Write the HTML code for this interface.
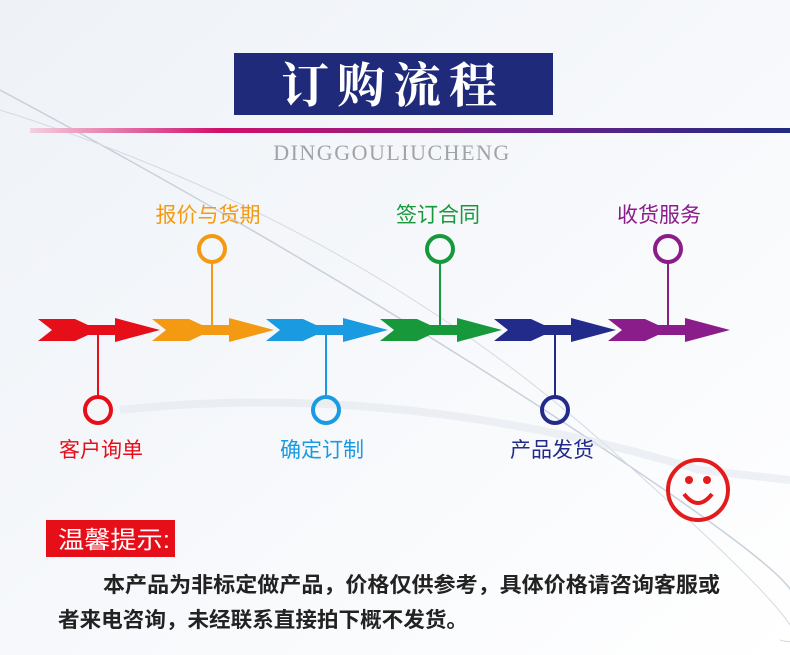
<!DOCTYPE html>
<html><head><meta charset="utf-8"><style>
html,body{margin:0;padding:0;background:#fff}
svg{display:block}
text{font-family:"Liberation Sans","Noto Sans CJK SC",sans-serif}
</style></head><body>
<svg width="790" height="655" viewBox="0 0 790 655" xmlns="http://www.w3.org/2000/svg">
<defs>
<linearGradient id="bg" x1="0" y1="0" x2="1" y2="1">
<stop offset="0" stop-color="#eef2f7"/><stop offset="0.5" stop-color="#f6f8fb"/><stop offset="1" stop-color="#ffffff"/>
</linearGradient>
<linearGradient id="ln" x1="0" y1="0" x2="1" y2="0">
<stop offset="0" stop-color="#f5d0e0"/><stop offset="0.25" stop-color="#d0106a"/><stop offset="0.6" stop-color="#7a1f8a"/><stop offset="1" stop-color="#1f2a80"/>
</linearGradient>
<polygon id="ar" points="0,-11 37,-11 50,-5 77,-5 77,-12 122,0 77,12 77,5 50,5 37,11 0,11 14,0"/>
</defs>
<rect width="790" height="655" fill="url(#bg)"/>
<path d="M0,90 Q300,250 560,420 T790,600" stroke="#c8d0dc" stroke-width="1.5" fill="none"/>
<path d="M0,110 Q350,220 600,440 T780,640" stroke="#d4dae4" stroke-width="1" fill="none"/>
<path d="M120,410 Q400,380 700,470 L790,480" stroke="#e2e7ee" stroke-width="8" fill="none" opacity="0.6"/>
<rect x="234" y="53" width="319" height="62" fill="#1f2a7a"/>
<text x="393" y="102" text-anchor="middle" font-size="48" font-weight="bold" fill="#fff" letter-spacing="8" style="font-family:'Noto Serif CJK SC','Noto Sans CJK SC',serif">订购流程</text>
<rect x="30" y="128" width="760" height="5" fill="url(#ln)"/>
<text x="392" y="160" text-anchor="middle" font-size="22" fill="#a0a4a8" letter-spacing="1.5" style="font-family:'Liberation Serif',serif">DINGGOULIUCHENG</text>
<use href="#ar" x="38" y="330" fill="#e60e19"/>
<use href="#ar" x="152" y="330" fill="#f39a12"/>
<use href="#ar" x="266" y="330" fill="#1a9ae0"/>
<use href="#ar" x="380" y="330" fill="#17993b"/>
<use href="#ar" x="494" y="330" fill="#222a8a"/>
<use href="#ar" x="608" y="330" fill="#8a1d8a"/>
<g fill="none" stroke-width="4">
<line x1="212" y1="262" x2="212" y2="326" stroke="#f39a12" stroke-width="2"/>
<circle cx="212" cy="249" r="13" stroke="#f39a12"/>
<line x1="440" y1="262" x2="440" y2="326" stroke="#17993b" stroke-width="2"/>
<circle cx="440" cy="249" r="13" stroke="#17993b"/>
<line x1="668" y1="262" x2="668" y2="326" stroke="#8a1d8a" stroke-width="2"/>
<circle cx="668" cy="249" r="13" stroke="#8a1d8a"/>
<line x1="98" y1="334" x2="98" y2="397" stroke="#e60e19" stroke-width="2"/>
<circle cx="98" cy="410" r="13" stroke="#e60e19"/>
<line x1="326" y1="334" x2="326" y2="397" stroke="#1a9ae0" stroke-width="2"/>
<circle cx="326" cy="410" r="13" stroke="#1a9ae0"/>
<line x1="555" y1="334" x2="555" y2="397" stroke="#222a8a" stroke-width="2"/>
<circle cx="555" cy="410" r="13" stroke="#222a8a"/>
</g>
<g font-size="21" text-anchor="middle">
<text x="208" y="222" fill="#f39a12">报价与货期</text>
<text x="438" y="222" fill="#17993b">签订合同</text>
<text x="659" y="222" fill="#8a1d8a">收货服务</text>
<text x="101" y="457" fill="#e60e19">客户询单</text>
<text x="322" y="457" fill="#1a9ae0">确定订制</text>
<text x="552" y="457" fill="#222a8a">产品发货</text>
</g>
<g fill="none" stroke="#e31b1b" stroke-width="4">
<circle cx="698" cy="490" r="30"/>
<path d="M684,494 Q698,512 712,494"/>
</g>
<circle cx="689" cy="480" r="4" fill="#e31b1b"/><circle cx="707" cy="480" r="4" fill="#e31b1b"/>
<rect x="46" y="520" width="129" height="37" fill="#e60e19"/>
<text x="58" y="548" font-size="24" fill="#fff" textLength="112" lengthAdjust="spacingAndGlyphs">温馨提示:</text>
<g font-size="21" font-weight="bold" fill="#222">
<text x="103" y="592" textLength="617" lengthAdjust="spacingAndGlyphs">本产品为非标定做产品，价格仅供参考，具体价格请咨询客服或</text>
<text x="58" y="627" textLength="410" lengthAdjust="spacingAndGlyphs">者来电咨询，未经联系直接拍下概不发货。</text>
</g>
</svg>
</body></html>
